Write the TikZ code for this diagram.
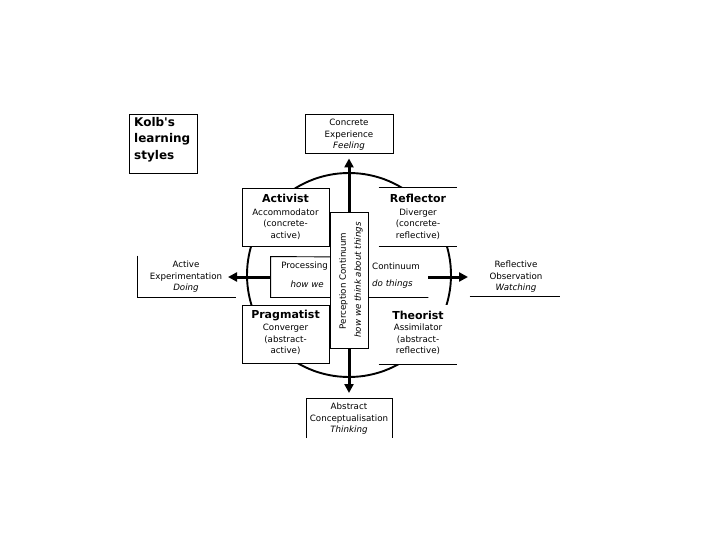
\documentclass[tikz,border=0pt]{standalone}
\usepackage{fontspec}
\setmainfont{DejaVu Sans}
\newfontfamily\kolbfont{DejaVu Sans}
\usetikzlibrary{arrows.meta}
\begin{document}
\begin{tikzpicture}[x=1pt,y=-1pt,
  lbl/.style={font=\fontsize{8.7}{11.5}\selectfont, align=center, inner sep=0pt},
  ttl/.style={font=\bfseries\fontsize{11}{13}\selectfont, inner sep=0pt},
  boxw/.style={fill=white, inner sep=0pt, line width=0.9pt},
  edge/.style={line width=0.9pt},
  bigarrow/.style={line width=3pt, -{Triangle[length=9pt,width=9pt]}},
  ring/.style={line width=1.9pt}]
\useasboundingbox (0,0) rectangle (720,540);
% circle
\coordinate (c) at (349,275);
\draw[ring] (c) circle [radius=102pt];
% Kolb title box
\node[boxw, draw, minimum width=68pt, minimum height=59pt] (kolb) at (163,143.5) {};
\node[font=\kolbfont\bfseries\fontsize{12}{16.5}\selectfont, align=left, inner sep=0pt, anchor=north west] (kolbT) at (134,117) {Kolb's\\learning\\styles};
% Concrete Experience
\node[boxw, draw, minimum width=88pt, minimum height=39pt] (ce) at (349,133.5) {};
\node[lbl] (ceT) at (349,135) {Concrete\\Experience\\\textit{Feeling}};
% Abstract Conceptualisation
\coordinate (abNW) at (306,398);
\coordinate (abNE) at (392,398);
\coordinate (abSW) at (306,438);
\coordinate (abSE) at (392,438);
\draw[edge] (abSW) -- (abNW) -- (abNE) -- (abSE);
\node[lbl, align=center] (abT) at (349,419) {Abstract\\Conceptualisation\\\textit{Thinking}};
% Active Experimentation
\node[boxw, minimum width=98pt, minimum height=41pt] (ae) at (187,276.5) {};
\draw[edge] (ae.north west) -- (ae.south west) -- (ae.south east);
\node[lbl] (aeT) at (186,277) {Active\\Experimentation\\\textit{Doing}};
% Reflective Observation
\node[boxw, minimum width=90pt, minimum height=41pt] (ro) at (515,275.5) {};
\draw[edge] (ro.south west) -- (ro.south east);
\node[lbl] (roT) at (516,277) {Reflective\\Observation\\\textit{Watching}};
% Activist
\node[boxw, draw, minimum width=87pt, minimum height=58pt] (act) at (285.5,217) {};
\node[ttl] (actT) at (285.5,198) {Activist};
\node[lbl] (actL) at (285.5,224) {Accommodator\\(concrete-\\active)};
% Reflector
\node[boxw, minimum width=78pt, minimum height=58pt] (ref) at (418,217) {};
\draw[edge] (ref.north west) -- (ref.north east);
\draw[edge] (ref.south west) -- (ref.south east);
\node[ttl] (refT) at (418,198) {Reflector};
\node[lbl] (refL) at (418,224) {Diverger\\(concrete-\\reflective)};
% Pragmatist
\node[boxw, draw, minimum width=87pt, minimum height=58pt] (pra) at (285.5,334) {};
\node[ttl] (praT) at (285.5,316) {Pragmatist};
\node[lbl] (praL) at (285.5,339.5) {Converger\\(abstract-\\active)};
% Theorist
\node[boxw, minimum width=78pt, minimum height=59pt] (the) at (418,334.5) {};
\draw[edge] (the.south west) -- (the.south east);
\node[ttl] (theT) at (418,315) {Theorist};
\node[lbl] (theL) at (418,339.5) {Assimilator\\(abstract-\\reflective)};
% middle processing continuum box
\node[boxw, minimum width=157pt, minimum height=40pt] (mid) at (349.5,277) {};
\draw[edge] (mid.south east) -- (mid.south west) -- (mid.north west) -- (349,257);
% Perception box
\node[boxw, draw, minimum width=38pt, minimum height=136pt] (perc) at (349,280) {};
\node[lbl, rotate=90] (percA) at (343.5,281) {Perception Continuum};
\node[lbl, rotate=90] (percB) at (358.5,280) {\textit{how we think about things}};
% processing texts
\node[lbl, anchor=east] (procA) at (328,266) {Processing};
\node[lbl, anchor=east] (procB) at (324,284) {\textit{how we}};
\node[lbl, anchor=west] (contA) at (372,266) {Continuum};
\node[lbl, anchor=west] (contB) at (372,284) {\textit{do things}};
% arrows
\coordinate (ltip) at (228,277);
\coordinate (rtip) at (468,277);
\draw[bigarrow, shorten >=5pt] (perc.north) -- (ce.south);
\draw[bigarrow, shorten >=5pt] (perc.south) -- (abNW -| perc.south);
\draw[bigarrow] (mid.west) -- (ltip);
\draw[bigarrow] (mid.east) -- (rtip);
\end{tikzpicture}
\end{document}
